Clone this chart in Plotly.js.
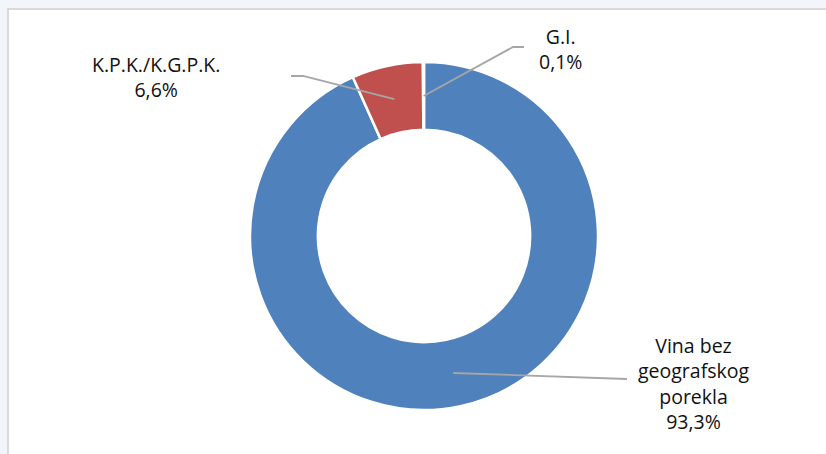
<!DOCTYPE html>
<html>
<head>
<meta charset="utf-8">
<script src="https://cdn.plot.ly/plotly-3.0.1.min.js"></script>
<style>html,body{margin:0;padding:0;background:#fff;}#chart{width:826px;height:454px;}</style>
</head>
<body>
<div id="chart"></div>
<script>
// Data
const categories = ["Vina bez geografskog porekla", "K.P.K./K.G.P.K.", "G.I."];
const labelTexts = ["Vina bez<br>geografskog<br>porekla<br>93,3%", "K.P.K./K.G.P.K.<br>6,6%", "G.I.<br>0,1%"];
const values = [93.3, 6.6, 0.1];
const colors = ["#4F81BD", "#C0504D", "#9BBB59"];

// Layout geometry (pixels)
const W = 826, H = 454;
const cx = 424, cy = 236, R = 174, HOLE = 0.61;
const px = x => x / W;
const py = y => 1 - y / H;

// label placement (pixels) and leader line elbows
const labelPos = [[693, 383], [156, 77], [560, 49]];
const elbows = [[[627, 379]], [[303, 76], [291, 76]], [[513, 47], [524, 47]]];

// anchors from data: mid-angle of each slice, middle of ring
const total = values.reduce((a, b) => a + b, 0);
let cum = 0;
const shapes = [
  {type: "rect", xref: "paper", yref: "paper", x0: 0, x1: 1, y0: 0, y1: 1, fillcolor: "#F2F6FA", line: {width: 0}, layer: "below"},
  {type: "rect", xref: "paper", yref: "paper", x0: px(8), x1: px(840), y0: py(470), y1: py(9), fillcolor: "#FFFFFF", line: {color: "#D9D9D9", width: 2}, layer: "below"}
];
const annotations = [];
values.forEach((v, i) => {
  const mid = (cum + v / 2) / total * 2 * Math.PI;
  cum += v;
  const rr = R * (1 + HOLE) / 2;
  const ax = cx + rr * Math.sin(mid);
  const ay = cy - rr * Math.cos(mid);
  let path = `M ${px(ax)} ${py(ay)}`;
  elbows[i].forEach(p => { path += ` L ${px(p[0])} ${py(p[1])}`; });
  shapes.push({type: "path", xref: "paper", yref: "paper", path: path, line: {color: "#A6A6A6", width: 1.8}, layer: "above"});
  annotations.push({
    xref: "paper", yref: "paper", x: px(labelPos[i][0]), y: py(labelPos[i][1]),
    xanchor: "center", yanchor: "middle", showarrow: false, align: "center",
    text: labelTexts[i], font: {family: "Open Sans, DejaVu Sans, sans-serif", size: 19.5, color: "#111111"}
  });
});

const half = R;
const trace = {
  type: "pie",
  labels: categories,
  values: values,
  hole: HOLE,
  sort: false,
  direction: "clockwise",
  rotation: 0,
  textinfo: "none",
  hoverinfo: "label+percent",
  marker: {colors: colors, line: {color: "#FFFFFF", width: 2.5}},
  domain: {x: [px(cx - half), px(cx + half)], y: [py(cy + half), py(cy - half)]},
  showlegend: false
};

const layout = {
  width: W, height: H,
  margin: {l: 0, r: 0, t: 0, b: 0},
  paper_bgcolor: "#FFFFFF",
  showlegend: false,
  shapes: shapes,
  annotations: annotations
};
Plotly.newPlot("chart", [trace], layout, {displayModeBar: false, staticPlot: true});
</script>
</body>
</html>
